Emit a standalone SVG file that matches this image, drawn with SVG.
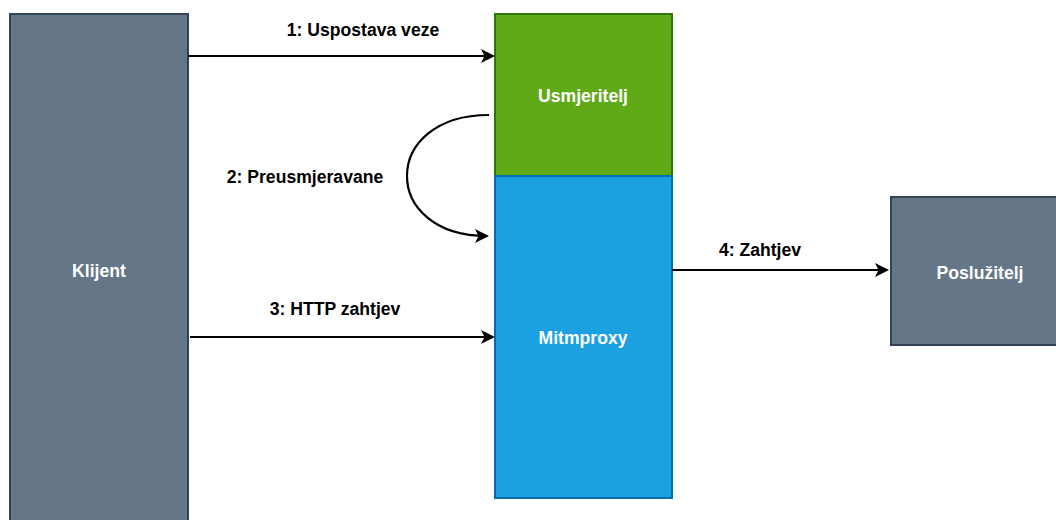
<svg xmlns="http://www.w3.org/2000/svg" width="1056" height="520" viewBox="0 0 1056 520">
<style>
.lbl{font-family:"Liberation Sans",Arial,sans-serif;font-weight:bold;font-size:17.6px;text-anchor:middle;dominant-baseline:central}
.nl{fill:#ffffff}
.el{fill:#000000}
.conn{fill:none;stroke:#000000;stroke-width:2.2}
</style>
<defs>
<marker id="ah" markerWidth="14" markerHeight="14" refX="12" refY="7" orient="auto" markerUnits="userSpaceOnUse" viewBox="0 0 14 14">
<path d="M0,0 L14,7 L0,14 L3.5,7 Z" fill="#000"/>
</marker>
</defs>
<rect width="1056" height="520" fill="#ffffff"/>
<g id="klijent">
<rect x="10" y="14" width="178" height="520" fill="#647687" stroke="#314354" stroke-width="2"/>
<text class="lbl nl" x="99" y="271">Klijent</text>
</g>
<g id="usmjeritelj">
<rect x="495" y="14" width="177" height="162" fill="#60a917" stroke="#2d7600" stroke-width="2"/>
<text class="lbl nl" x="583" y="96">Usmjeritelj</text>
</g>
<g id="mitmproxy">
<rect x="495" y="176" width="177" height="322" fill="#1ba1e2" stroke="#006eaf" stroke-width="2"/>
<text class="lbl nl" x="583" y="338">Mitmproxy</text>
</g>
<g id="posluzitelj">
<rect x="891" y="197" width="175" height="148" fill="#647687" stroke="#314354" stroke-width="2"/>
<text class="lbl nl" x="980" y="273">Poslužitelj</text>
</g>
<g id="connectors">
<path class="conn" d="M188,56 L493,56" marker-end="url(#ah)"/>
<path class="conn" d="M489,115 C380,115 380,236 487,236" marker-end="url(#ah)"/>
<path class="conn" d="M190,337 L493,337" marker-end="url(#ah)"/>
<path class="conn" d="M672,270 L887,270" marker-end="url(#ah)"/>
<text class="lbl el" x="363" y="30">1: Uspostava veze</text>
<text class="lbl el" x="305" y="177">2: Preusmjeravane</text>
<text class="lbl el" x="335" y="309">3: HTTP zahtjev</text>
<text class="lbl el" x="760" y="250">4: Zahtjev</text>
</g>
</svg>
